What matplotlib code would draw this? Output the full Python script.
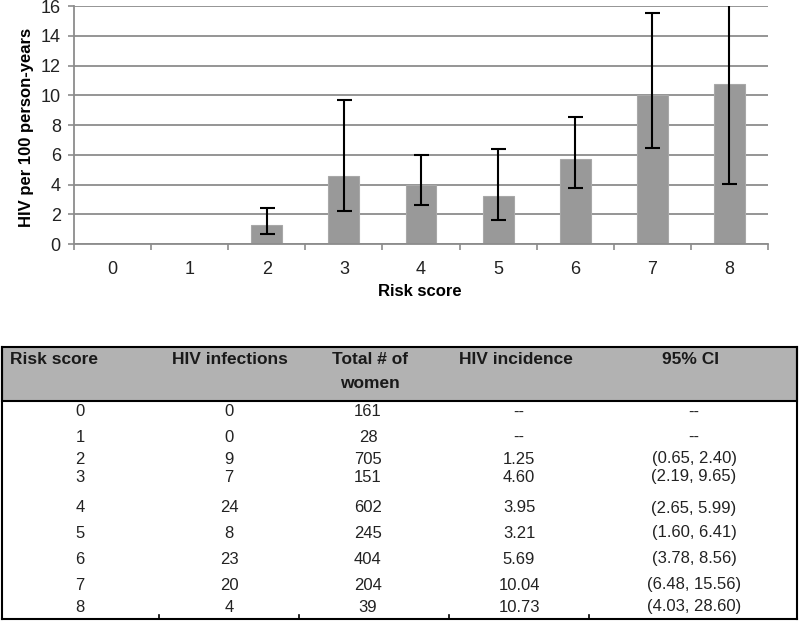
import matplotlib.pyplot as plt
import numpy as np
from matplotlib.patches import Rectangle

plt.rcParams['font.family'] = ['Liberation Sans', 'DejaVu Sans']

risk_score = [0, 1, 2, 3, 4, 5, 6, 7, 8]
infections = [0, 0, 9, 7, 24, 8, 23, 20, 4]
women = [161, 28, 705, 151, 602, 245, 404, 204, 39]
incidence = [0, 0, 1.25, 4.60, 3.95, 3.21, 5.69, 10.04, 10.73]
ci_low = [0, 0, 0.65, 2.19, 2.65, 1.60, 3.78, 6.48, 4.03]
ci_high = [0, 0, 2.40, 9.65, 5.99, 6.41, 8.56, 15.56, 28.60]
inc_text = ["--", "--", "1.25", "4.60", "3.95", "3.21", "5.69", "10.04", "10.73"]
ci_text = ["--", "--", "(0.65, 2.40)", "(2.19, 9.65)", "(2.65, 5.99)",
           "(1.60, 6.41)", "(3.78, 8.56)", "(6.48, 15.56)", "(4.03, 28.60)"]

W, H = 800, 622
fig = plt.figure(figsize=(8, 6.22), dpi=100)

# ---- bar chart ----
ax = fig.add_axes([74 / W, 1 - 244 / H, (768 - 74) / W, (244 - 6) / H])
x = np.array(risk_score)
inc = np.array(incidence)
yerr = [inc - np.array(ci_low), np.array(ci_high) - inc]
ax.bar(x, inc, width=0.4, color='#999999', edgecolor='#a8a8a8', linewidth=0.8, zorder=2)
ax.errorbar(x[2:], inc[2:], yerr=[yerr[0][2:], yerr[1][2:]], fmt='none',
            ecolor='black', elinewidth=1.5, capsize=5.4, capthick=1.5, zorder=3)

ax.set_xlim(-0.5, 8.5)
ax.set_ylim(0, 16)
ax.set_yticks(np.arange(0, 17, 2))
ax.set_xticks(x)
ax.set_xticks(np.arange(-0.5, 9, 1), minor=True)
ax.tick_params(axis='x', which='major', length=0, pad=12, labelsize=13, labelcolor='#222222')
ax.tick_params(axis='x', which='minor', length=4, width=1.2, color='#8c8c8c', direction='out')
ax.tick_params(axis='y', length=4.5, width=1.2, color='#8c8c8c', pad=5, labelsize=13,
               labelcolor='#222222')
ax.yaxis.grid(True, color='#8c8c8c', linewidth=1.3, zorder=0)
ax.set_axisbelow(True)
for s in ['top', 'right']:
    ax.spines[s].set_visible(False)
for s in ['left', 'bottom']:
    ax.spines[s].set_color('#8c8c8c')
    ax.spines[s].set_linewidth(1.3)

fig.text(27 / W, 1 - 127 / H, "HIV per 100 person-years", rotation=90,
         ha='center', va='center', fontsize=12, fontweight='bold')
fig.text(420 / W, 1 - 292 / H, "Risk score", ha='center', va='center',
         fontsize=12, fontweight='bold')

# ---- table ----
tb = fig.add_axes([0, 0, 1, 1])
tb.set_xlim(0, W)
tb.set_ylim(H, 0)
tb.axis('off')

tb.add_patch(Rectangle((2, 347), 795, 54, facecolor='#b2b2b2', edgecolor='black', linewidth=1.5))
tb.plot([2, 2], [347, 619], color='black', lw=1.5)
tb.plot([797, 797], [347, 619], color='black', lw=1.5)
tb.plot([2, 797], [619, 619], color='black', lw=1.5)
for cx in [159, 299, 449, 589]:
    tb.plot([cx, cx], [615, 619], color='black', lw=1.2)

hdr_kw = dict(fontsize=12.5, fontweight='bold', va='center', color='#1a1a1a')
tb.text(10, 360, "Risk score", ha='left', **hdr_kw)
tb.text(230, 360, "HIV infections", ha='center', **hdr_kw)
tb.text(370, 360, "Total # of", ha='center', **hdr_kw)
tb.text(370, 383, "women", ha='center', **hdr_kw)
tb.text(516, 360, "HIV incidence", ha='center', **hdr_kw)
tb.text(690, 360, "95% CI", ha='center', **hdr_kw)

row_y = [412, 437, 459, 477, 508, 533, 559, 585, 607]
col_x = [80, 229, 368, 519, 694]
for i, ry in enumerate(row_y):
    vals = [str(risk_score[i]), str(infections[i]), str(women[i]), inc_text[i], ci_text[i]]
    for cx, v in zip(col_x, vals):
        tb.text(cx, ry, v, ha='center', va='center', fontsize=12, color='#222222')

fig.savefig('out.png', dpi=100)
